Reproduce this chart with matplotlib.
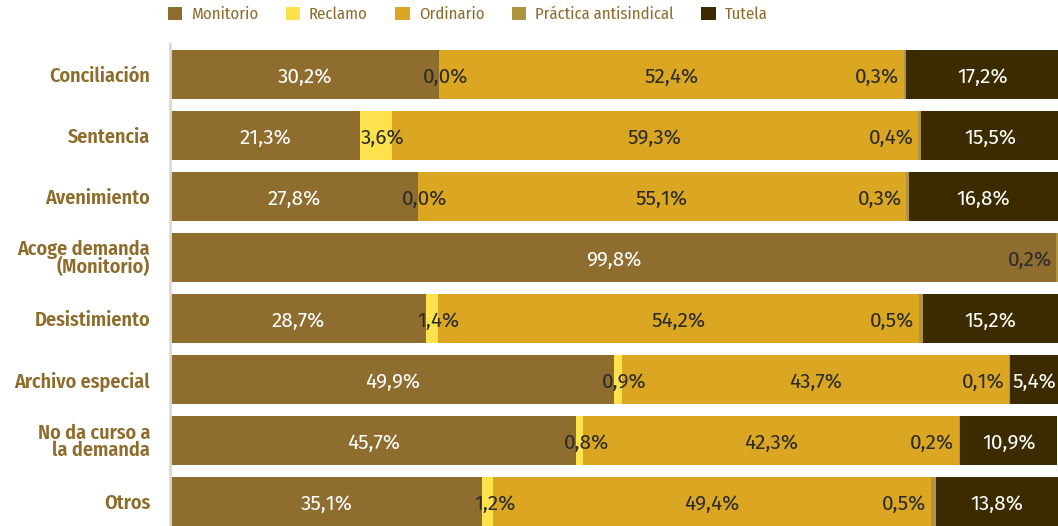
import matplotlib
matplotlib.use("Agg")
import matplotlib.pyplot as plt
from matplotlib import font_manager
import numpy as np

categories = ["Conciliación", "Sentencia", "Avenimiento", "Acoge demanda\n(Monitorio)",
              "Desistimiento", "Archivo especial", "No da curso a\nla demanda", "Otros"]
series_names = ["Monitorio", "Reclamo", "Ordinario", "Práctica antisindical", "Tutela"]
monitorio = [30.2, 21.3, 27.8, 99.8, 28.7, 49.9, 45.7, 35.1]
reclamo = [0.0, 3.6, 0.0, None, 1.4, 0.9, 0.8, 1.2]
ordinario = [52.4, 59.3, 55.1, None, 54.2, 43.7, 42.3, 49.4]
practica = [0.3, 0.4, 0.3, 0.2, 0.5, 0.1, 0.2, 0.5]
tutela = [17.2, 15.5, 16.8, None, 15.2, 5.4, 10.9, 13.8]

colors = ["#8F6D2E", "#FDE14D", "#DBA622", "#B09440", "#3D2B00"]
label_colors = ["white", "#2b2b2b", "#2b2b2b", "#2b2b2b", "white"]
cat_color = "#8E6C2B"

avail = {f.name for f in font_manager.fontManager.ttflist}
def pick(cands):
    for c in cands:
        if c in avail:
            return c
    return "DejaVu Sans"
fam = pick(["Fira Sans Condensed", "Roboto Condensed", "Liberation Sans Narrow", "Roboto"])
val_fam = pick(["Fira Sans", "Fira Sans Condensed", "Roboto"])
plt.rcParams["font.family"] = [fam, "DejaVu Sans"]

fig = plt.figure(figsize=(10.58, 5.26), dpi=100)
ax = fig.add_axes([171 / 1058, 0.0, 1 - 171 / 1058, (526 - 44) / 526])
for s in ["top", "right", "bottom"]:
    ax.spines[s].set_visible(False)
ax.spines["left"].set_position(("outward", 1))
ax.spines["left"].set_color("#d9d9d9")
ax.spines["left"].set_linewidth(2)

series = [monitorio, reclamo, ordinario, practica, tutela]
y = np.arange(len(categories))
left = np.zeros(len(categories))
for si, (vals, col) in enumerate(zip(series, colors)):
    v = np.array([0.0 if x is None else x for x in vals])
    ax.barh(y, v, left=left, height=0.8, color=col, edgecolor="none",
            label=series_names[si])
    for i, x in enumerate(vals):
        if x is None:
            continue
        txt = f"{x:.1f}%".replace(".", ",")
        if si == 1:
            xp, ha = left[i] + x / 2 + 0.8, "center"
        elif si == 3:
            xp, ha = left[i] - 0.5, "right"
        else:
            xp, ha = left[i] + x / 2, "center"
        ax.text(xp, y[i] + 0.05, txt, ha=ha, va="center", fontsize=15,
                color=label_colors[si], family=[val_fam, "DejaVu Sans"])
    left = left + v

ax.set_xlim(0, 100)
ax.set_ylim(7.4, -0.5)
ax.set_xticks([])
ax.set_yticks(y)
ax.set_yticklabels(categories, linespacing=0.85, fontsize=14.5,
                   fontweight="semibold", color=cat_color)
ax.tick_params(axis="y", length=0, pad=14)

fig.legend(loc="center", bbox_to_anchor=(0.442, 0.972), ncol=5, frameon=False,
           fontsize=12, handlelength=0.85, handleheight=0.85, handletextpad=0.55,
           columnspacing=1.65, labelcolor=cat_color)

fig.savefig("out.png", dpi=100)
